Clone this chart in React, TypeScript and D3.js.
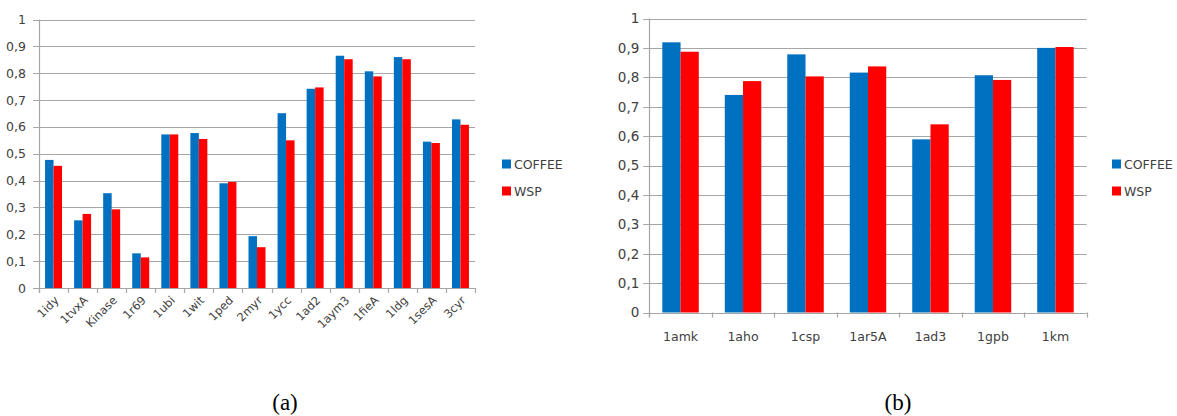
import React from "react";
import * as d3 from "d3";

const catsA = ["1idy", "1tvxA", "Kinase", "1r69", "1ubi", "1wit", "1ped", "2myr", "1ycc", "1ad2", "1aym3", "1fieA", "1ldg", "1sesA", "3cyr"];
const coffeeA = [0.477, 0.252, 0.353, 0.129, 0.572, 0.577, 0.39, 0.193, 0.651, 0.742, 0.865, 0.807, 0.86, 0.545, 0.628];
const wspA = [0.455, 0.276, 0.293, 0.114, 0.572, 0.555, 0.395, 0.152, 0.55, 0.747, 0.852, 0.788, 0.852, 0.54, 0.608];

const catsB = ["1amk", "1aho", "1csp", "1ar5A", "1ad3", "1gpb", "1km"];
const coffeeB = [0.919, 0.74, 0.878, 0.816, 0.589, 0.807, 0.9];
const wspB = [0.887, 0.787, 0.803, 0.837, 0.64, 0.791, 0.903];

const yTicks = [0, 0.1, 0.2, 0.3, 0.4, 0.5, 0.6, 0.7, 0.8, 0.9, 1];
const seriesNames = ["COFFEE", "WSP"];
const seriesColors = ["#0070C0", "#FF0000"];

const FONT = "'DejaVu Sans', Verdana, sans-serif";
const GRID = "#a6a6a6";
const TEXT = "#404040";

type PanelProps = {
  cats: string[];
  s1: number[];
  s2: number[];
  x0: number;
  x1: number;
  yTop: number;
  yBot: number;
  rotate: boolean;
  xFont: number;
  yFont: number;
  yLabelGap: number;
  legendFont: number;
  legendX: number;
  legendY: number;
};

function Panel(p: PanelProps) {
  const x = d3.scaleBand<string>().domain(p.cats).range([p.x0, p.x1]).paddingInner(0).paddingOuter(0);
  const y = d3.scaleLinear().domain([0, 1]).range([p.yBot, p.yTop]);
  const bw = x.bandwidth();
  const gap = bw * 0.208;
  const barW = (bw - 2 * gap) / 2;
  const fmt = (v: number) => (v === 0 ? "0" : v === 1 ? "1" : d3.format(".1f")(v).replace(".", ","));
  const boundaries = [...p.cats.map((c) => x(c)!), p.x1];
  return (
    <g>
      {yTicks.map((t) => (
        <g key={t}>
          <line x1={p.x0 - 6} x2={p.x1} y1={Math.round(y(t)) + 0.5} y2={Math.round(y(t)) + 0.5} stroke={GRID} strokeWidth={1.2} />
          <text x={p.x0 - p.yLabelGap} y={y(t)} dy="0.36em" textAnchor="end" fontSize={p.yFont} fill={TEXT} fontFamily={FONT}>
            {fmt(t)}
          </text>
        </g>
      ))}
      <line x1={Math.round(p.x0) + 0.5} x2={Math.round(p.x0) + 0.5} y1={p.yTop} y2={p.yBot + 5} stroke={GRID} strokeWidth={1.2} />
      {boundaries.map((b, i) => (
        <line key={i} x1={Math.round(b) + 0.5} x2={Math.round(b) + 0.5} y1={p.yBot} y2={p.yBot + 5} stroke={GRID} strokeWidth={1.2} />
      ))}
      {p.cats.map((c, i) => (
        <g key={c}>
          <rect x={x(c)! + gap} y={y(p.s1[i])} width={barW} height={p.yBot - y(p.s1[i])} fill={seriesColors[0]} />
          <rect x={x(c)! + gap + barW} y={y(p.s2[i])} width={barW} height={p.yBot - y(p.s2[i])} fill={seriesColors[1]} />
        </g>
      ))}
      {p.cats.map((c) => {
        const cx = x(c)! + bw / 2;
        return p.rotate ? (
          <text key={c} transform={`translate(${cx + 6},${p.yBot + 13}) rotate(-45)`} textAnchor="end" fontSize={p.xFont} fill={TEXT} fontFamily={FONT}>
            {c}
          </text>
        ) : (
          <text key={c} x={cx} y={p.yBot + 28} textAnchor="middle" fontSize={p.xFont} fill={TEXT} fontFamily={FONT}>
            {c}
          </text>
        );
      })}
      {seriesNames.map((n, i) => (
        <g key={n}>
          <rect x={p.legendX} y={p.legendY + i * 27 - 4.5} width={9} height={9} fill={seriesColors[i]} />
          <text x={p.legendX + 12} y={p.legendY + i * 27} dy="0.36em" fontSize={p.legendFont} fill={TEXT} fontFamily={FONT}>
            {n}
          </text>
        </g>
      ))}
    </g>
  );
}

export default function App() {
  return (
    <svg width={1177} height={416} style={{ position: "absolute", left: 0, top: 0, background: "#fff" }}>
      <rect width={1177} height={416} fill="#fff" />
      <Panel cats={catsA} s1={coffeeA} s2={wspA} x0={39} x1={475} yTop={19.5} yBot={288} rotate xFont={11.5} yFont={12.5} yLabelGap={13} legendFont={12.5} legendX={502} legendY={164} />
      <Panel cats={catsB} s1={coffeeB} s2={wspB} x0={649.3} x1={1086.7} yTop={18.5} yBot={312.5} rotate={false} xFont={12.5} yFont={13.5} yLabelGap={10} legendFont={12.5} legendX={1112} legendY={164} />
      <text x={285} y={410} textAnchor="middle" fontSize={23} fontFamily="'Liberation Serif', 'Times New Roman', serif" fill="#000">(a)</text>
      <text x={898} y={410} textAnchor="middle" fontSize={23} fontFamily="'Liberation Serif', 'Times New Roman', serif" fill="#000">(b)</text>
    </svg>
  );
}
